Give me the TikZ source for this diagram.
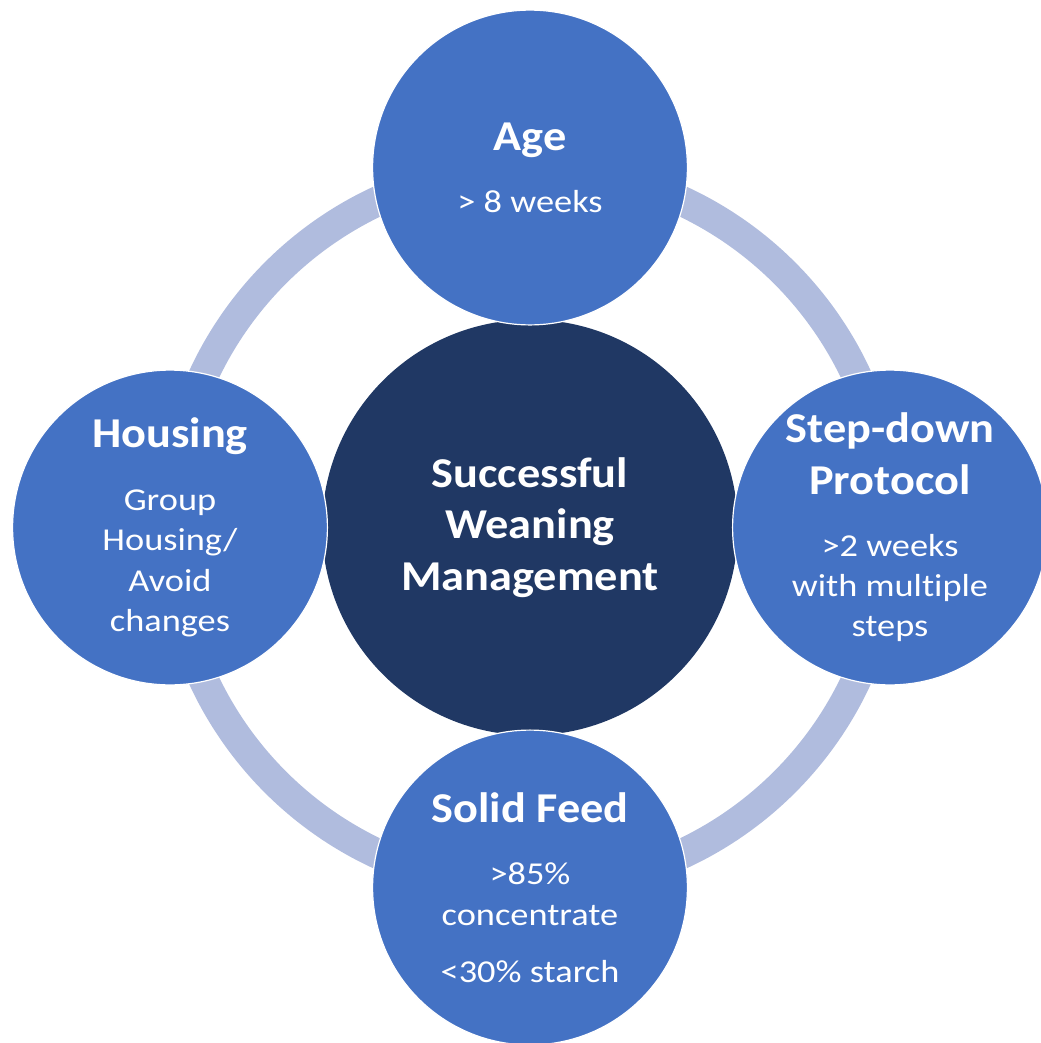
\documentclass[tikz,border=0pt]{standalone}
\usepackage{fontspec}
\setmainfont{Carlito}[FakeStretch=1.14, Ligatures=NoCommon]
\newfontfamily\hdfont{Carlito}[FakeStretch=1.09, Ligatures=NoCommon]
\usepackage{xcolor}
\usepackage{tikz}
\definecolor{accblue}{RGB}{68,114,196}
\definecolor{navy}{RGB}{32,56,100}
\definecolor{ringblue}{RGB}{176,188,222}
\newcommand{\hd}[1]{{\hdfont\fontsize{32}{39}\selectfont\bfseries #1}}

\begin{document}
\begin{tikzpicture}[
  hub/.style={circle, fill=navy, minimum size=11.0cm, inner sep=0pt,
              align=center, text=white, font=\hdfont\fontsize{32}{39}\selectfont\bfseries},
  sat/.style={circle, fill=accblue, draw=white, line width=0.9pt, minimum size=8.33cm,
              inner sep=0pt, align=center, text=white, font=\fontsize{24}{30.4}\selectfont},
  ring/.style={draw=ringblue, line width=0.794cm},
]
\useasboundingbox (-14.023,-13.639) rectangle (13.520,13.957);
\clip (-14.023,-13.639) rectangle (13.520,13.957);

% Ring behind everything
\coordinate (o) at (0,0);
\draw[ring] (o) circle[radius=9.525cm];

% Centre
\node[hub] (hub) at (o) {Successful\\Weaning\\Management};

% Four factors round the ring
\node[sat] (age)  at (0,9.525)  {\hd{Age}\\[16.5pt]> 8 weeks};
\node[sat] (step) at (9.525,0)  {\hd{Step-down}\\[8.6pt]\hd{Protocol}\\[16pt]>2 weeks\\with multiple\\steps};
\node[sat] (feed) at (0,-9.525) {\hd{Solid Feed}\\[16.5pt]>85\%\\concentrate\\[12.4pt]<30\% starch};
\node[sat] (house) at (-9.525,0) {\hd{Housing}\\[16.5pt]Group\\Housing/\\Avoid\\changes};
\end{tikzpicture}
\end{document}
